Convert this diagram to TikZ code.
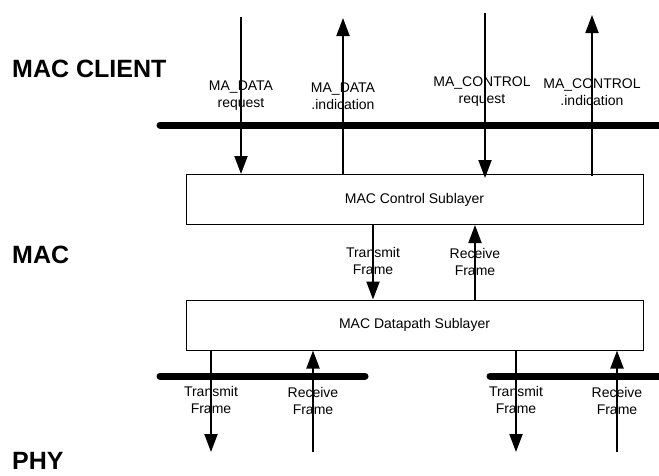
\documentclass[tikz,border=0pt]{standalone}
\usepackage{fontspec}
\setmainfont{Liberation Sans}
\usetikzlibrary{arrows.meta}
\begin{document}
\begin{tikzpicture}[x=1pt,y=-1pt,
  layerbox/.style={draw=black,line width=1pt,minimum width=457pt,minimum height=50pt,inner sep=0pt,font=\fontsize{14}{16}\selectfont},
  lbl/.style={align=center,font=\fontsize{14}{17}\selectfont,inner sep=0pt},
  side/.style={font=\fontsize{25}{28}\selectfont\bfseries,anchor=west,inner sep=0pt},
  bus/.style={line width=7pt,line cap=round},
  sig/.style={line width=2pt,-{Triangle[length=18pt,width=13pt]}}]
\useasboundingbox (0,0) rectangle (659,475);
% side labels
\node[side] (client) at (12,69) {MAC CLIENT};
\node[side] (mac) at (12,255) {MAC};
\node[side] (phy) at (12,461) {PHY};
% buses
\coordinate (tb1) at (160,125);
\coordinate (tb2) at (662,125);
\draw[bus] (tb1) -- (tb2);
\coordinate (lb1) at (160,376);
\coordinate (lb2) at (365,376);
\draw[bus] (lb1) -- (lb2);
\coordinate (rb1) at (490,376);
\coordinate (rb2) at (662,376);
\draw[bus] (rb1) -- (rb2);
% boxes
\node[layerbox] (ctrl) at (414.5,199.5) {MAC Control Sublayer};
\node[layerbox] (dp) at (414.5,325) {MAC Datapath Sublayer};
% top arrows
\coordinate (dreqT) at (241,17);
\coordinate (dindT) at (343,18);
\coordinate (creqT) at (485,13);
\coordinate (cindT) at (592,15);
\draw[sig] (dreqT) -- (dreqT |- ctrl.north);
\draw[sig] (dindT |- ctrl.north) -- (dindT);
\draw[sig] (creqT) -- ([yshift=-4pt]creqT |- ctrl.north);
\draw[sig] ([yshift=-2pt]cindT |- ctrl.north) -- (cindT);
\node[lbl] (l1) at (241,96) {MA\_DATA\\request};
\node[lbl] (l2) at (343,96) {MA\_DATA\\.indication};
\node[lbl] (l3) at (482,92) {MA\_CONTROL\\request};
\node[lbl] (l4) at (592,92) {MA\_CONTROL\\.indication};
% middle arrows
\coordinate (mt) at (373,0);
\coordinate (mr) at (475,0);
\draw[sig] (mt |- ctrl.south) -- (mt |- dp.north);
\draw[sig] (mr |- dp.north) -- (mr |- ctrl.south);
\node[lbl] (l5) at (373,261) {Transmit\\Frame};
\node[lbl] (l6) at (475,262) {Receive\\Frame};
% bottom arrows
\coordinate (bt1) at (211,452);
\coordinate (br1) at (313,452);
\coordinate (bt2) at (516,452);
\coordinate (br2) at (617,452);
\draw[sig] (bt1 |- dp.south) -- (bt1);
\draw[sig] (br1) -- (br1 |- dp.south);
\draw[sig] (bt2 |- dp.south) -- (bt2);
\draw[sig] (br2) -- (br2 |- dp.south);
\node[lbl] (l7) at (211,400) {Transmit\\Frame};
\node[lbl] (l8) at (313,401) {Receive\\Frame};
\node[lbl] (l9) at (516,400) {Transmit\\Frame};
\node[lbl] (l10) at (617,401) {Receive\\Frame};
\end{tikzpicture}
\end{document}
